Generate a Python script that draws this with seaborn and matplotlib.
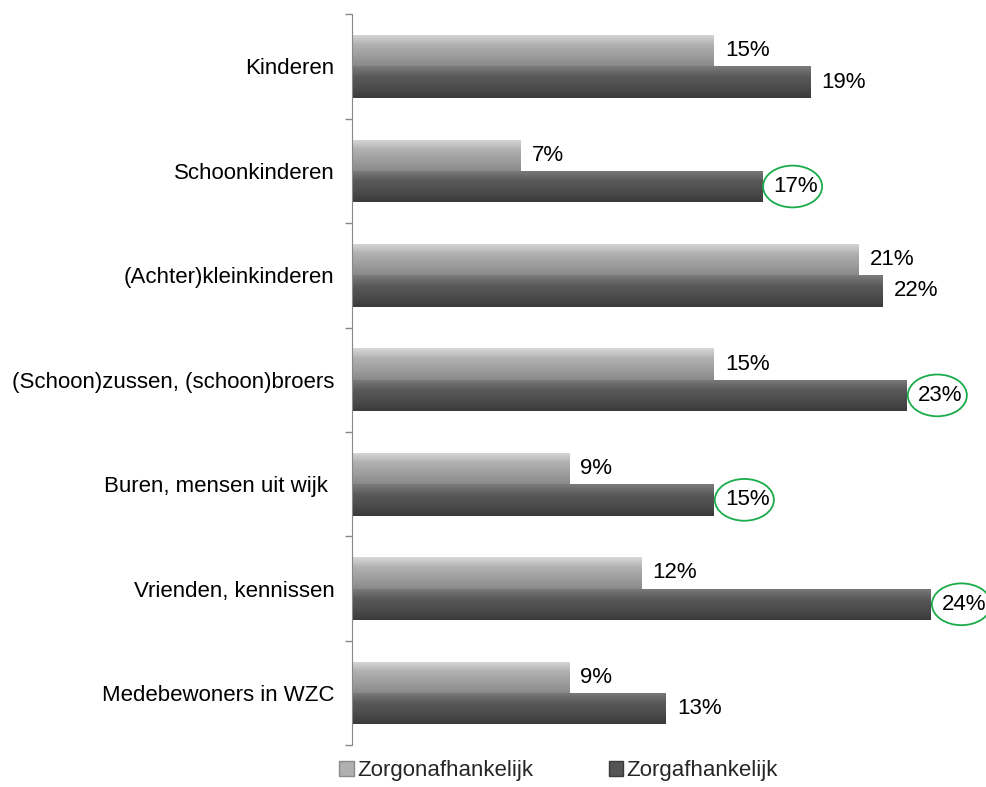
import numpy as np
import pandas as pd
import matplotlib
matplotlib.use('Agg')
import matplotlib.pyplot as plt
import seaborn as sns
from matplotlib.patches import Ellipse, Patch
from matplotlib.colors import LinearSegmentedColormap

categories = ['Kinderen', 'Schoonkinderen', '(Achter)kleinkinderen',
              '(Schoon)zussen, (schoon)broers', 'Buren, mensen uit wijk ',
              'Vrienden, kennissen', 'Medebewoners in WZC']
zorgonafhankelijk = [15, 7, 21, 15, 9, 12, 9]
zorgafhankelijk = [19, 17, 22, 23, 15, 24, 13]
series_names = ['Zorgonafhankelijk', 'Zorgafhankelijk']
circled = [False, True, False, True, True, True, False]

sns.set_style('white')
plt.rcParams['font.family'] = ['Liberation Sans', 'DejaVu Sans']

df = pd.DataFrame({
    'cat': categories * 2,
    'val': zorgonafhankelijk + zorgafhankelijk,
    'serie': [series_names[0]] * 7 + [series_names[1]] * 7,
})

fig = plt.figure(figsize=(9.87, 7.87), dpi=100)
ax = fig.add_axes([0.357, 0.053, 0.633, 0.929])
palette = {series_names[0]: '#a8a8a8', series_names[1]: '#525252'}
sns.barplot(data=df, x='val', y='cat', hue='serie', palette=palette,
            orient='h', width=0.6, ax=ax, legend=False, saturation=1,
            edgecolor='none')

# gradient fill per bar
cmaps = [LinearSegmentedColormap.from_list('l', ['#d8d8d8', '#b0b0b0', '#9e9e9e', '#8a8a8a']),
         LinearSegmentedColormap.from_list('d', ['#7c7c7c', '#595959', '#4c4c4c', '#3a3a3a'])]
grad = np.linspace(0, 1, 64).reshape(-1, 1)
for ci, cont in enumerate(ax.containers):
    for p in cont.patches:
        x0, y0 = p.get_x(), p.get_y()
        w, h = p.get_width(), p.get_height()
        im = ax.imshow(grad, cmap=cmaps[ci], aspect='auto',
                       extent=(x0, x0 + w, y0 + h, y0), zorder=2,
                       interpolation='bilinear')
        im.set_clip_path(p)

ax.set_xlim(0, 25.9)
ax.set_ylim(6.5, -0.5)
ax.set_xlabel('')
ax.set_ylabel('')
ax.set_xticks([])

for ci, cont in enumerate(ax.containers):
    for i, p in enumerate(cont.patches):
        w = p.get_width()
        yc = p.get_y() + p.get_height() / 2
        xt = w + 0.45
        ax.text(xt, yc, f'{w:.0f}%', va='center', ha='left', fontsize=16,
                color='black', zorder=5)
        if ci == 1 and circled[i]:
            ax.add_patch(Ellipse((w + 1.25, yc), 2.45, 0.4, fill=False,
                                 edgecolor='#1aab4a', lw=1.3, zorder=6,
                                 clip_on=False))

ax.tick_params(axis='y', which='major', length=0, labelsize=16, pad=13,
               labelcolor='black')
ax.set_yticks(np.arange(-0.5, 7, 1), minor=True)
ax.tick_params(axis='y', which='minor', left=True, length=5, color='#888888',
               width=1, direction='out')
for s in ['top', 'right', 'bottom']:
    ax.spines[s].set_visible(False)
ax.spines['left'].set_color('#888888')

handles = [Patch(facecolor='#b0b0b0', edgecolor='#8a8a8a', label=series_names[0]),
           Patch(facecolor='#555555', edgecolor='#3a3a3a', label=series_names[1])]
fig.legend(handles=handles, loc='lower center', bbox_to_anchor=(0.566, -0.018),
           ncol=2, frameon=False, fontsize=16, handlelength=0.65, handleheight=0.65,
           handletextpad=0.15, columnspacing=3.4)

fig.savefig('out.png', dpi=100)
